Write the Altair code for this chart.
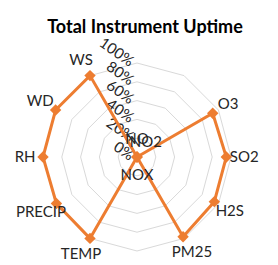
import altair as alt
import numpy as np
import pandas as pd

# ---- data ----
categories = ["NO", "NO2", "O3", "SO2", "H2S", "PM25", "NOX", "TEMP", "PRECIP", "RH", "WD", "WS"]
uptime = [0, 0, 93, 95, 95, 98, 0, 100, 99, 100, 100, 100]
grid_levels = [20, 40, 60, 80, 100]
tick_values = [0, 20, 40, 60, 80, 100]
tick_labels = ["0%", "20%", "40%", "60%", "80%", "100%"]

# ---- build tables (polar -> cartesian) ----
n = len(categories)
ang = np.arange(n) * 2 * np.pi / n
pts = pd.DataFrame({"cat": categories, "v": uptime, "ang": ang, "order": range(n)})
pts["x"] = pts["v"] * np.sin(pts["ang"])
pts["y"] = pts["v"] * np.cos(pts["ang"])
loop = pd.concat([pts, pts.iloc[[0]].assign(order=n)], ignore_index=True)

LABEL_GAP = 19
pts["lx"] = (pts["v"] + LABEL_GAP) * np.sin(pts["ang"])
pts["ly"] = (pts["v"] + LABEL_GAP) * np.cos(pts["ang"])

grid_rows = []
for lev in grid_levels:
    for i in range(n + 1):
        a = ang[i % n]
        grid_rows.append({"level": lev, "order": i, "x": lev * np.sin(a), "y": lev * np.cos(a)})
grid = pd.DataFrame(grid_rows)

ticks = pd.DataFrame({"val": tick_values, "label": tick_labels})
ticks["x"] = -5.0
ticks["y"] = ticks["val"]

# ---- scales: 0.94 px per unit, center placed as in reference ----
W, H = 262, 219
K = 0.94
cx, cy = 129, 119
xs = alt.Scale(domain=[-cx / K, (W - cx) / K], nice=False, zero=False)
ys = alt.Scale(domain=[-(H - cy) / K, cy / K], nice=False, zero=False)
X = lambda f: alt.X(f, type="quantitative", scale=xs, axis=None)
Y = lambda f: alt.Y(f, type="quantitative", scale=ys, axis=None)

FONT = "Lato"
ORANGE = "#ED7D31"

grid_layer = alt.Chart(grid).mark_line(color="#D9D9D9", strokeWidth=1).encode(
    x=X("x"), y=Y("y"), order="order:Q", detail="level:N"
)
tick_layer = alt.Chart(ticks).mark_text(
    align="right", baseline="middle", angle=35, font=FONT, fontSize=15, color="#262626"
).encode(x=X("x"), y=Y("y"), text="label:N")
line_layer = alt.Chart(loop).mark_line(color=ORANGE, strokeWidth=3).encode(
    x=X("x"), y=Y("y"), order="order:Q"
)
point_layer = alt.Chart(pts).mark_point(
    shape="diamond", filled=True, color=ORANGE, size=130, opacity=1
).encode(x=X("x"), y=Y("y"))
label_layer = alt.Chart(pts).mark_text(
    align="center", baseline="middle", font=FONT, fontSize=15, color="#262626"
).encode(x=X("lx"), y=Y("ly"), text="cat:N")

chart = alt.layer(grid_layer, tick_layer, line_layer, point_layer, label_layer).properties(
    width=W,
    height=H,
    autosize="none",
    padding={"top": 30, "left": 0, "right": 0, "bottom": 12},
    title=alt.TitleParams(
        "Total Instrument Uptime", font=FONT, fontSize=18, fontWeight="bold",
        color="#000000", anchor="middle", offset=2, dx=6, dy=4
    ),
).configure_view(strokeWidth=0)

chart.save("out.html", embed_options={"renderer": "svg", "actions": False})
